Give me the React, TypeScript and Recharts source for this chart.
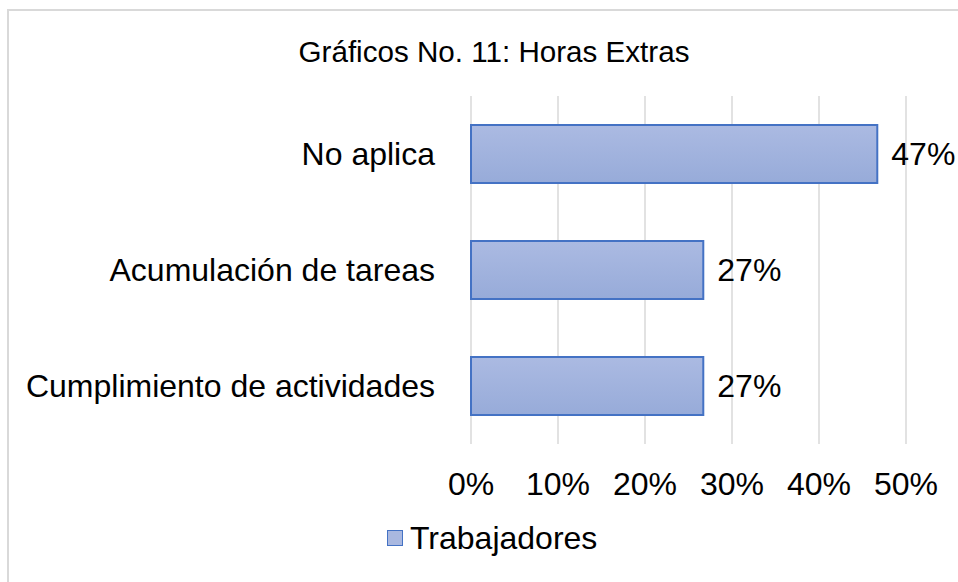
import React from 'react';
import { BarChart, Bar, XAxis, YAxis, CartesianGrid, LabelList } from 'recharts';

const categories = ['No aplica', 'Acumulación de tareas', 'Cumplimiento de actividades'];
const trabajadores = [46.7, 26.7, 26.7];
const xTicks = [0, 10, 20, 30, 40, 50];

const data = categories.map((name, i) => ({ name, value: trabajadores[i] }));

const FONT = '"Liberation Sans", Arial, sans-serif';

export default function App() {
  return (
    <div style={{ position: 'fixed', left: 0, top: 0, width: 958, height: 582, overflow: 'hidden', background: '#fff', fontFamily: FONT }}>
      {/* chart frame, only left and top edges visible */}
      <div style={{ position: 'absolute', left: 7, top: 9, width: 1000, height: 1000, border: '2px solid #d9d9d9' }} />

      <div style={{ position: 'absolute', left: 0, width: 988, top: 35, textAlign: 'center', fontSize: 29.6, lineHeight: '34px', color: '#000' }}>
        Gráficos No. 11: Horas Extras
      </div>

      <div style={{ position: 'absolute', left: 0, top: 0 }}>
        <BarChart
          width={958}
          height={582}
          data={data}
          layout="vertical"
          margin={{ top: 96, right: 52, bottom: 98, left: 0 }}
          barCategoryGap="25%"
          style={{ fontFamily: FONT }}
        >
          <defs>
            <linearGradient id="barFill" x1="0" y1="0" x2="0" y2="1">
              <stop offset="0%" stopColor="#abbae2" />
              <stop offset="100%" stopColor="#97abd9" />
            </linearGradient>
          </defs>
          <CartesianGrid horizontal={false} stroke="#d9d9d9" strokeWidth={1.5} />
          <XAxis
            type="number"
            domain={[0, 50]}
            ticks={xTicks}
            tickFormatter={(v) => `${v}%`}
            axisLine={false}
            tickLine={false}
            tickSize={0}
            tickMargin={28}
            height={40}
            interval={0}
            tick={{ fontSize: 32, fill: '#000' }}
          />
          <YAxis
            type="category"
            dataKey="name"
            width={471}
            axisLine={false}
            tickLine={false}
            tickSize={0}
            tickMargin={36}
            tick={{ fontSize: 32, fill: '#000' }}
          />
          <Bar dataKey="value" fill="url(#barFill)" stroke="#4472c4" strokeWidth={2} barSize={58} isAnimationActive={false}>
            <LabelList
              dataKey="value"
              position="right"
              offset={14}
              formatter={(v: any) => `${Math.round(Number(v))}%`}
              style={{ fontSize: 32, fill: '#000' }}
            />
          </Bar>
        </BarChart>
      </div>

      {/* legend */}
      <div style={{ position: 'absolute', left: 387, top: 520, display: 'flex', alignItems: 'center', height: 36 }}>
        <div style={{ width: 14, height: 14, background: '#a9b8e0', border: '1.5px solid #4472c4', marginRight: 7 }} />
        <span style={{ fontSize: 32, color: '#000', lineHeight: '36px' }}>Trabajadores</span>
      </div>
    </div>
  );
}
